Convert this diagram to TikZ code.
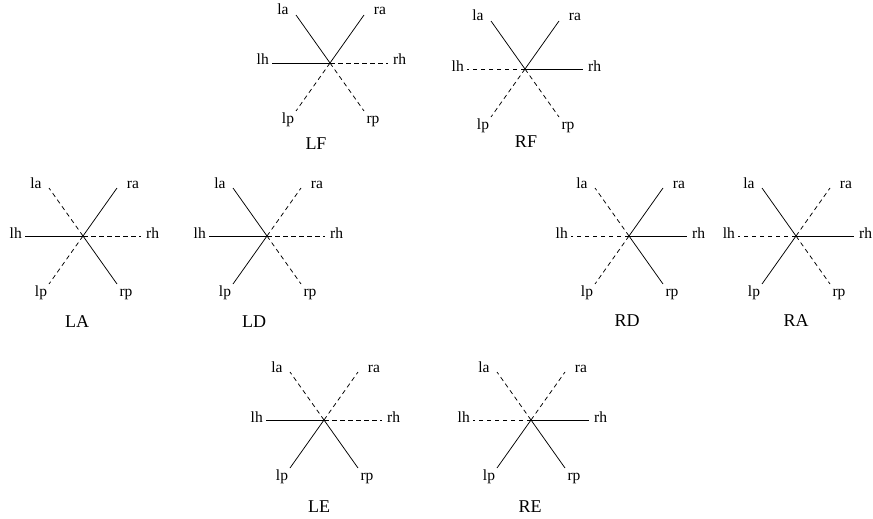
\documentclass[tikz,border=0pt]{standalone}
\usepackage{fontspec}
\setmainfont{Liberation Serif}
\tikzset{
  ray/.style={line width=0.75pt, black},
  dsh/.style={dash pattern=on 4.5pt off 3.5pt},
  sld/.style={solid},
  lbl/.style={inner sep=0pt, font=\fontsize{15.5}{17}\selectfont},
  title/.style={inner sep=0pt, anchor=base, font=\fontsize{18}{20}\selectfont}
}
\newcommand\mystar[9]{%
  % #1 name, #2 cx, #3 cy, #4..#9 styles la ra lh rh lp rp
  \coordinate (#1c) at (#2,#3);
  \path (#1c) ++(-34,-48) coordinate (#1la);
  \path (#1c) ++(34,-48) coordinate (#1ra);
  \path (#1c) ++(-58,0) coordinate (#1lh);
  \path (#1c) ++(58,0) coordinate (#1rh);
  \path (#1c) ++(-34,48) coordinate (#1lp);
  \path (#1c) ++(34,48) coordinate (#1rp);
  \draw[ray,#4] (#1c) -- (#1la);
  \draw[ray,#5] (#1c) -- (#1ra);
  \draw[ray,#6] (#1c) -- (#1lh);
  \draw[ray,#7] (#1c) -- (#1rh);
  \draw[ray,#8] (#1c) -- (#1lp);
  \draw[ray,#9] (#1c) -- (#1rp);
  \node[lbl,anchor=base] (#1tla) at ([shift={(-47,-48)}]#1c) {la};
  \node[lbl,anchor=base] (#1tra) at ([shift={(50,-48)}]#1c) {ra};
  \node[lbl,anchor=base east] (#1tlh) at ([shift={(-61,2)}]#1c) {lh};
  \node[lbl,anchor=base west] (#1trh) at ([shift={(63,2)}]#1c) {rh};
  \node[lbl,anchor=base] (#1tlp) at ([shift={(-42,60)}]#1c) {lp};
  \node[lbl,anchor=base] (#1trp) at ([shift={(43,60)}]#1c) {rp};
}
\begin{document}
\begin{tikzpicture}[x=1pt,y=-1pt]
\useasboundingbox (0,0) rectangle (873,519);
\mystar{LF}{330}{63}{sld}{sld}{sld}{dsh}{dsh}{dsh}
\mystar{RF}{525}{69}{sld}{sld}{dsh}{sld}{dsh}{dsh}
\mystar{LA}{83}{236}{dsh}{sld}{sld}{dsh}{dsh}{sld}
\mystar{LD}{267}{236}{sld}{dsh}{sld}{dsh}{sld}{dsh}
\mystar{RD}{629}{236}{dsh}{sld}{dsh}{sld}{dsh}{sld}
\mystar{RA}{796}{236}{sld}{dsh}{dsh}{sld}{sld}{dsh}
\mystar{LE}{324}{420}{dsh}{dsh}{sld}{dsh}{sld}{sld}
\mystar{RE}{531}{420}{dsh}{dsh}{dsh}{sld}{sld}{sld}
\node[title] (tLF) at (316,149) {LF};
\node[title] (tRF) at (526,147) {RF};
\node[title] (tLA) at (77,327) {LA};
\node[title] (tLD) at (254,327) {LD};
\node[title] (tRD) at (627,326) {RD};
\node[title] (tRA) at (796,326) {RA};
\node[title] (tLE) at (319,512) {LE};
\node[title] (tRE) at (530,512) {RE};
\end{tikzpicture}
\end{document}
